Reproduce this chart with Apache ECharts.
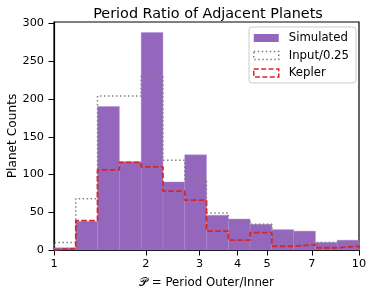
<!DOCTYPE html>
<html>
<head>
<meta charset="utf-8">
<script src="https://cdn.jsdelivr.net/npm/echarts@6/dist/echarts.min.js"></script>
<style>
html,body{margin:0;padding:0;background:#fff;}
#c{width:374px;height:293px;}
</style>
</head>
<body>
<div id="c"></div>
<script>
// Bin edges (log-spaced, 1 to 10)
const binEdges = [1, 1.179, 1.389, 1.638, 1.931, 2.276, 2.683, 3.162, 3.728, 4.394, 5.179, 6.105, 7.197, 8.483, 10];
// Counts per bin
const simulated = [3, 38, 190, 117, 288, 90, 126, 46, 41, 34, 27, 25, 10, 13];
const inputScaled = [10, 68, 204, 204, 231, 119, 94, 49, 39, 34, 19, 10, 10, 10];
const kepler = [2, 39, 106, 116, 110, 78, 66, 25, 13, 23, 5, 7, 3, 5];
const xTicks = [1, 2, 3, 4, 5, 7, 10];
const yTicks = [0, 50, 100, 150, 200, 250, 300];

const font = 'DejaVu Sans';

function barData(vals) {
  return vals.map((v, i) => [binEdges[i], binEdges[i + 1], v]);
}
function stepData(vals) {
  const d = [[binEdges[0], 0]];
  vals.forEach((v, i) => d.push([binEdges[i], v]));
  d.push([binEdges[binEdges.length - 1], vals[vals.length - 1]]);
  d.push([binEdges[binEdges.length - 1], 0]);
  return d;
}

const chart = echarts.init(document.getElementById('c'), null, {renderer: 'canvas'});
chart.setOption({
  animation: false,
  backgroundColor: '#fff',
  textStyle: {fontFamily: font},
  title: {
    text: 'Period Ratio of Adjacent Planets',
    left: 203, textAlign: 'center', top: 2,
    textStyle: {fontFamily: font, fontSize: 14.4, fontWeight: 'normal', color: '#000'}
  },
  grid: {left: 54, right: 15, top: 22, bottom: 43, outerBoundsMode: 'none', containLabel: false, show: true, borderColor: '#000', borderWidth: 1.2, backgroundColor: 'transparent'},
  legend: {
    orient: 'vertical', left: 249, top: 27,
    padding: [5, 7, 4, 4],
    backgroundColor: '#fff', borderColor: '#ccc', borderWidth: 1, borderRadius: 3,
    itemWidth: 25, itemHeight: 8, itemGap: 5.5,
    textStyle: {fontFamily: font, fontSize: 11.7, color: '#000', padding: [0, 0, 0, 5]},
    data: [
      {name: 'Simulated', icon: 'rect', itemStyle: {color: '#9467bd', borderWidth: 0}},
      {name: 'Input/0.25', icon: 'rect', itemStyle: {color: 'transparent', borderColor: '#808080', borderWidth: 1.5, borderType: [1.5, 2.5]}},
      {name: 'Kepler', icon: 'rect', itemStyle: {color: 'transparent', borderColor: '#d62728', borderWidth: 1.5, borderType: [5, 2.4]}}
    ]
  },
  xAxis: {
    type: 'log', logBase: 10, min: 1, max: 10,
    name: '\u{1D4AB} = Period Outer/Inner', nameLocation: 'middle', nameGap: 27,
    nameTextStyle: {fontFamily: font, fontSize: 11.8, color: '#000'},
    axisLine: {show: true, lineStyle: {color: '#000', width: 1.2}},
    axisTick: {show: true, inside: false, length: 5.5, lineStyle: {color: '#000', width: 1}, customValues: xTicks},
    axisLabel: {fontFamily: font, fontSize: 11.3, color: '#000', margin: 9, customValues: xTicks, formatter: v => String(Math.round(v * 100) / 100)},
    splitLine: {show: false},
    minorTick: {show: false}
  },
  yAxis: {
    type: 'value', min: 0, max: 302,
    name: 'Planet Counts', nameLocation: 'middle', nameGap: 35, nameRotate: 90, nameMoveOverlap: false,
    nameTextStyle: {fontFamily: font, fontSize: 12.2, color: '#000'},
    axisLine: {show: true, lineStyle: {color: '#000', width: 1.2}},
    axisTick: {show: true, inside: false, length: 5.5, lineStyle: {color: '#000', width: 1}, customValues: yTicks},
    axisLabel: {fontFamily: font, fontSize: 11.3, color: '#000', margin: 10, customValues: yTicks},
    splitLine: {show: false}
  },
  series: [
    {
      name: 'Simulated', type: 'custom', z: 1,
      data: barData(simulated),
      encode: {x: [0, 1], y: 2},
      renderItem: function (params, api) {
        const p0 = api.coord([api.value(0), 0]);
        const p1 = api.coord([api.value(1), api.value(2)]);
        return {
          type: 'rect',
          shape: {x: p0[0], y: p1[1], width: p1[0] - p0[0], height: p0[1] - p1[1]},
          style: {fill: '#9467bd', stroke: '#a88bcc', lineWidth: 0.4}
        };
      },
      itemStyle: {color: '#9467bd'}
    },
    {
      name: 'Input/0.25', type: 'line', step: 'end', z: 3,
      data: stepData(inputScaled), showSymbol: false, symbol: 'none',
      lineStyle: {color: '#808080', width: 1.5, type: [1.5, 2.5]},
      itemStyle: {color: '#808080'}
    },
    {
      name: 'Kepler', type: 'line', step: 'end', z: 4,
      data: stepData(kepler), showSymbol: false, symbol: 'none',
      lineStyle: {color: '#d62728', width: 1.8, type: [5.5, 2.4]},
      itemStyle: {color: '#d62728'}
    }
  ]
});
</script>
</body>
</html>
